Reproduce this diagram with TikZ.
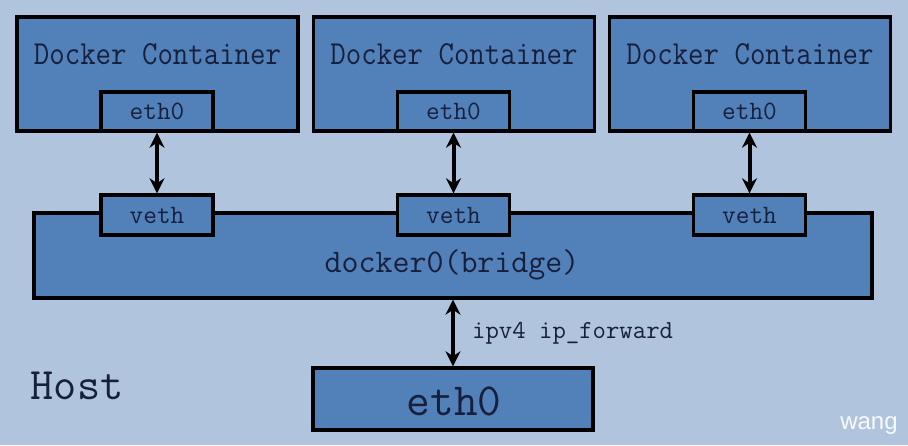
\documentclass[tikz,border=0pt]{standalone}
\usepackage{fontspec}
\setmonofont{Latin Modern Mono}
\setsansfont{Liberation Sans}
\usetikzlibrary{arrows.meta}
\definecolor{bg}{RGB}{176,196,222}
\definecolor{boxfill}{RGB}{82,128,184}
\definecolor{txt}{RGB}{22,32,60}
\begin{document}
\begin{tikzpicture}[x=1pt,y=-1pt,
  box/.style={draw=black, fill=boxfill, line width=3.4pt, inner sep=0pt, rectangle},
  lbl/.style={text=txt, font=\ttfamily, inner sep=0pt},
  link/.style={line width=4pt, {Stealth[length=15pt,width=15pt]}-{Stealth[length=15pt,width=15pt]}}]
\fill[bg] (0,0) rectangle (908,445);
\useasboundingbox (0,0) rectangle (908,445);
% containers
\foreach \i/\x in {1/157.5,2/454,3/750}{
  \node[box, minimum width=281pt, minimum height=114pt] (c\i) at (\x,74) {};
  \node[lbl, font=\ttfamily\fontsize{30}{30}\selectfont, yscale=1.12] (ct\i) at (\x,54) {Docker Container};
  \node[box, minimum width=112pt, minimum height=39pt] (e\i) at (\x-0.5,111.5) {};
  \node[lbl, font=\ttfamily\fontsize{26.5}{26.5}\selectfont] (et\i) at (e\i) {eth0};
}
% bridge
\node[box, minimum width=838pt, minimum height=85pt] (br) at (453,255.5) {};
\node[lbl, font=\ttfamily\fontsize{33}{33}\selectfont] (brt) at (452,265) {docker0(bridge)};
\foreach \i in {1,2,3}{
  \node[box, minimum width=112pt, minimum height=40pt] (v\i) at (e\i|-0,215) {};
  \node[lbl, font=\ttfamily\fontsize{26.5}{26.5}\selectfont] (vt\i) at (v\i) {veth};
  \draw[link] (e\i.south) -- (v\i.north);
}
% host
\node[box, minimum width=280pt, minimum height=62pt] (he) at (453,399) {};
\node[lbl, font=\ttfamily\fontsize{46}{46}\selectfont] (het) at (454,401) {eth0};
\node[lbl, font=\ttfamily\fontsize{45}{45}\selectfont] (host) at (77,386) {Host};
\draw[link] (br.south-|he) -- (he.north);
\node[lbl, font=\ttfamily\fontsize{26}{26}\selectfont, anchor=west] (ipf) at (472,333) {ipv4 ip\_forward};
\node[text=white!92!bg, font=\sffamily\fontsize{24}{24}\selectfont, inner sep=0pt] (wm) at (869,426) {wang};
\end{tikzpicture}
\end{document}
